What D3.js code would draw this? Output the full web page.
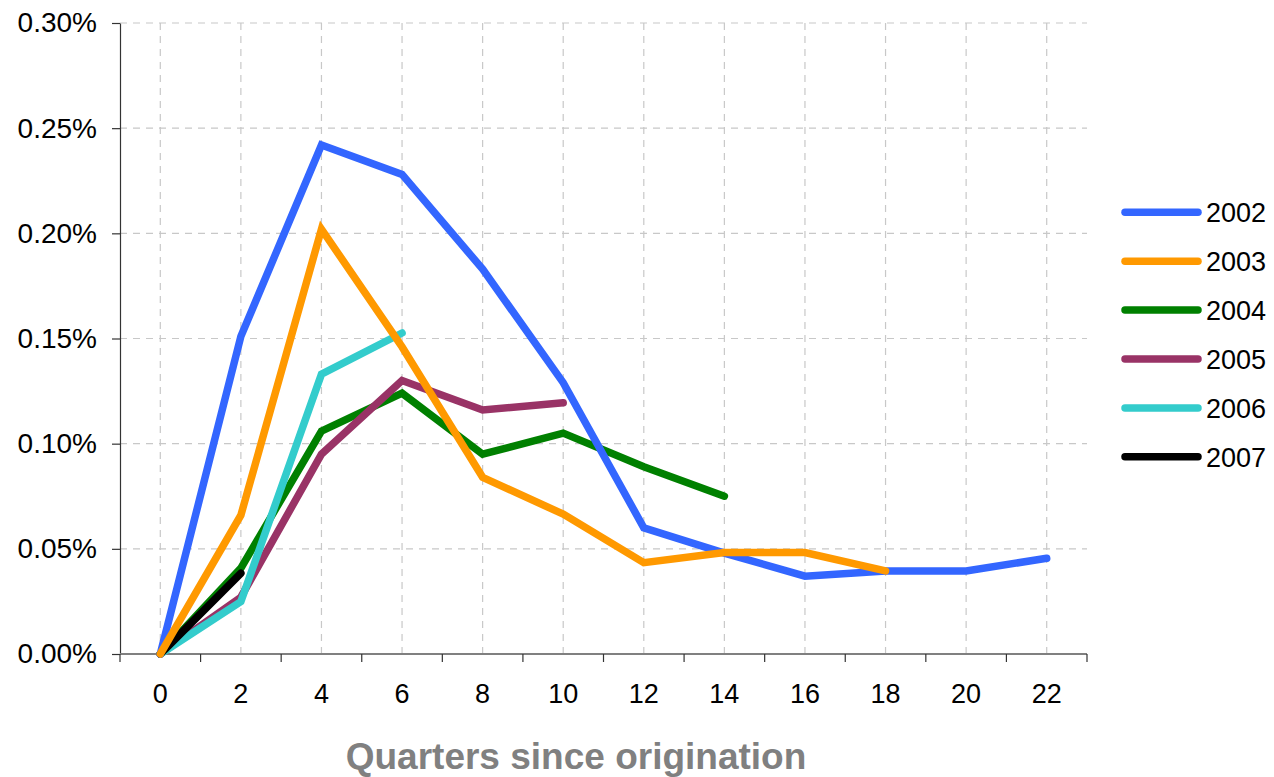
<!DOCTYPE html>
<html><head><meta charset="utf-8">
<script src="https://cdn.jsdelivr.net/npm/d3@7"></script>
<style>
body{margin:0;background:#fff;}
svg{display:block;font-family:"Liberation Sans",Arial,sans-serif;}
</style></head>
<body><svg id="c" width="1274" height="777"></svg>
<script>
const quarters = [0,2,4,6,8,10,12,14,16,18,20,22];
const yTicks = [0,0.05,0.10,0.15,0.20,0.25,0.30];
const seriesNames = ["2002","2003","2004","2005","2006","2007"];
const s2002 = [0,0.151,0.242,0.228,0.183,0.129,0.060,0.048,0.037,0.0395,0.0395,0.0455];
const s2003 = [0,0.066,0.202,0.146,0.084,0.0665,0.0434,0.0482,0.0482,0.0395];
const s2004 = [0,0.0408,0.106,0.124,0.095,0.105,0.089,0.075];
const s2005 = [0,0.027,0.095,0.130,0.116,0.1195];
const s2006 = [0,0.0249,0.133,0.1526];
const s2007 = [0,0.0384];
const seriesValues = [s2002,s2003,s2004,s2005,s2006,s2007];
const colors = ["#3366FF","#FF9900","#008000","#993366","#33CCCC","#000000"];
const drawOrder = [2,3,4,5,0,1];

const svg = d3.select("#c");
const L=120,R=1087,T=23,B=654;
const x = d3.scaleBand().domain(quarters).range([L,R]).paddingInner(0).paddingOuter(0);
const xc = q => x(q)+x.bandwidth()/2;
const y = d3.scaleLinear().domain([0,0.30]).range([B,T]);

// gridlines
const grid = svg.append("g").attr("stroke","#c8c8c8").attr("stroke-width",1.2).attr("stroke-dasharray","7,6");
yTicks.filter(t=>t>0).forEach(t=>{
  grid.append("line").attr("x1",L).attr("x2",R).attr("y1",y(t)).attr("y2",y(t));
});
quarters.forEach(q=>{
  grid.append("line").attr("x1",xc(q)).attr("x2",xc(q)).attr("y1",T).attr("y2",B);
});

// y axis
const yAxis = d3.axisLeft(y).tickValues(yTicks).tickSize(8).tickSizeOuter(0).tickPadding(15).tickFormat(d=>d.toFixed(2)+"%");
const gy = svg.append("g").attr("transform",`translate(${L},0)`).call(yAxis);
gy.select(".domain").attr("stroke","#333").attr("stroke-width",1.2);
gy.selectAll(".tick line").attr("stroke","#333").attr("stroke-width",1.2);
gy.selectAll(".tick text").attr("font-size",28).attr("fill","#000").attr("font-family","Liberation Sans, Arial, sans-serif");

// x axis
const gx = svg.append("g").attr("transform",`translate(0,${B})`);
gx.append("line").attr("x1",L).attr("x2",R).attr("stroke","#808080").attr("stroke-width",2);
const bounds = quarters.map(q=>x(q)).concat([R]);
gx.selectAll("line.tk").data(bounds).join("line").attr("class","tk")
  .attr("x1",d=>d).attr("x2",d=>d).attr("y1",0).attr("y2",8).attr("stroke","#333").attr("stroke-width",1.2);
gx.selectAll("text").data(quarters).join("text")
  .attr("x",d=>xc(d)).attr("y",49).attr("text-anchor","middle")
  .attr("font-size",27).attr("fill","#000").text(d=>d);

// title
svg.append("text").attr("x",576).attr("y",769).attr("text-anchor","middle")
  .attr("font-size",37).attr("font-weight","bold").attr("fill","#808080")
  .text("Quarters since origination");

// lines
const line = d3.line().x((d,i)=>xc(quarters[i])).y(d=>y(d));
drawOrder.forEach(i=>{
  svg.append("path").datum(seriesValues[i]).attr("d",line)
    .attr("fill","none").attr("stroke",colors[i]).attr("stroke-width",7.5)
    .attr("stroke-linecap","round").attr("stroke-linejoin","miter");
});

// legend
const lg = svg.append("g");
seriesNames.forEach((n,i)=>{
  const yy = 212.3 + i*48.9;
  lg.append("line").attr("x1",1125).attr("x2",1198).attr("y1",yy).attr("y2",yy)
    .attr("stroke",colors[i]).attr("stroke-width",7.5).attr("stroke-linecap","round");
  lg.append("text").attr("x",1206).attr("y",yy+10).attr("font-size",27).attr("fill","#000").text(n);
});
</script></body></html>
